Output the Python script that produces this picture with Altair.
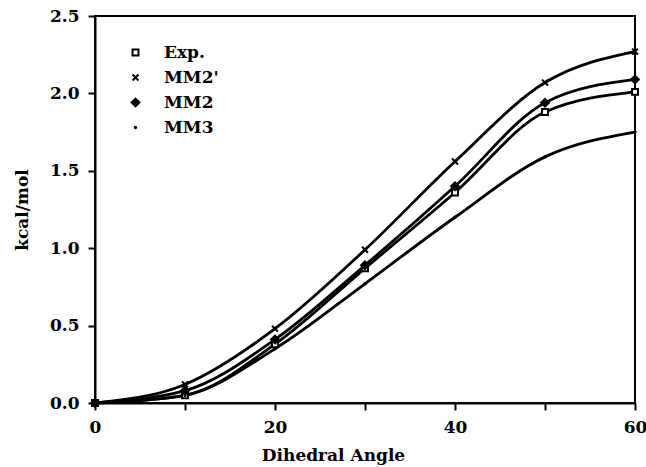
import altair as alt
import pandas as pd

angles = [0, 10, 20, 30, 40, 50, 60]
series_names = ["Exp.", "MM2'", "MM2", "MM3"]
exp_vals = [0.0, 0.05, 0.38, 0.87, 1.36, 1.88, 2.01]
mm2p_vals = [0.0, 0.12, 0.48, 0.99, 1.56, 2.07, 2.27]
mm2_vals = [0.0, 0.08, 0.41, 0.89, 1.40, 1.94, 2.09]
mm3_vals = [0.0, 0.05, 0.35, 0.77, 1.20, 1.59, 1.75]

rows = []
for name, vals in zip(series_names, [exp_vals, mm2p_vals, mm2_vals, mm3_vals]):
    for a, v in zip(angles, vals):
        rows.append({"angle": a, "energy": v, "series": name})
df = pd.DataFrame(rows)

FONT = "DejaVu Serif"

x_enc = alt.X("angle:Q", scale=alt.Scale(domain=[0, 60], nice=False),
              axis=alt.Axis(values=[0, 10, 20, 30, 40, 50, 60],
                            labelExpr="datum.value % 20 == 0 ? datum.label : ''",
                            title="Dihedral Angle", grid=False, labelFlush=False,
                            titleX=238, titleY=57, titleBaseline="alphabetic"))
y_enc = alt.Y("energy:Q", scale=alt.Scale(domain=[0, 2.5], nice=False),
              axis=alt.Axis(values=[i * 0.25 for i in range(11)], format=".1f",
                            labelExpr="(round(datum.value*100) % 50 == 0) ? datum.label : ''",
                            title="kcal/mol", grid=False, titleX=-64, labelFlush=False))

lines = alt.Chart(df).mark_line(color="black", strokeWidth=2.8, interpolate="monotone").encode(
    x=x_enc, y=y_enc, detail="series:N"
)

xpath = "M-1,-1L1,1M1,-1L-1,1"
leg = dict(title=None, orient="none", legendX=32, legendY=28,
           labelFont=FONT, labelFontSize=17, labelFontWeight="bold",
           labelColor="black", rowPadding=7, labelOffset=20)
points = alt.Chart(df).mark_point(stroke="black", strokeWidth=2, opacity=1).encode(
    x="angle:Q", y="energy:Q",
    shape=alt.Shape("series:N", sort=series_names,
                    scale=alt.Scale(domain=series_names, range=["square", xpath, "diamond", "circle"]),
                    legend=alt.Legend(**leg)),
    fill=alt.Fill("series:N", sort=series_names,
                  scale=alt.Scale(domain=series_names, range=["white", "black", "black", "black"]),
                  legend=alt.Legend(**leg)),
    size=alt.Size("series:N", sort=series_names,
                  scale=alt.Scale(type="ordinal", domain=series_names, range=[35, 35, 60, 2]),
                  legend=alt.Legend(**leg)),
)

chart = alt.layer(lines, points).properties(
    width=540, height=387,
    autosize=alt.AutoSizeParams(type="none"),
    padding={"left": 95, "top": 16, "right": 11, "bottom": 64},
    background="white",
).configure_view(stroke="black", strokeWidth=2).configure_axis(
    domainColor="black", domainWidth=2, tickColor="black", tickWidth=2, tickSize=7,
    labelFont=FONT, labelFontSize=17, labelFontWeight="bold", labelColor="black",
    titleFont=FONT, titleFontSize=17, titleFontWeight="bold", titleColor="black",
    labelPadding=9,
).configure_legend(symbolStrokeWidth=2)

chart.save("out.html", embed_options={"renderer": "svg", "actions": False})
